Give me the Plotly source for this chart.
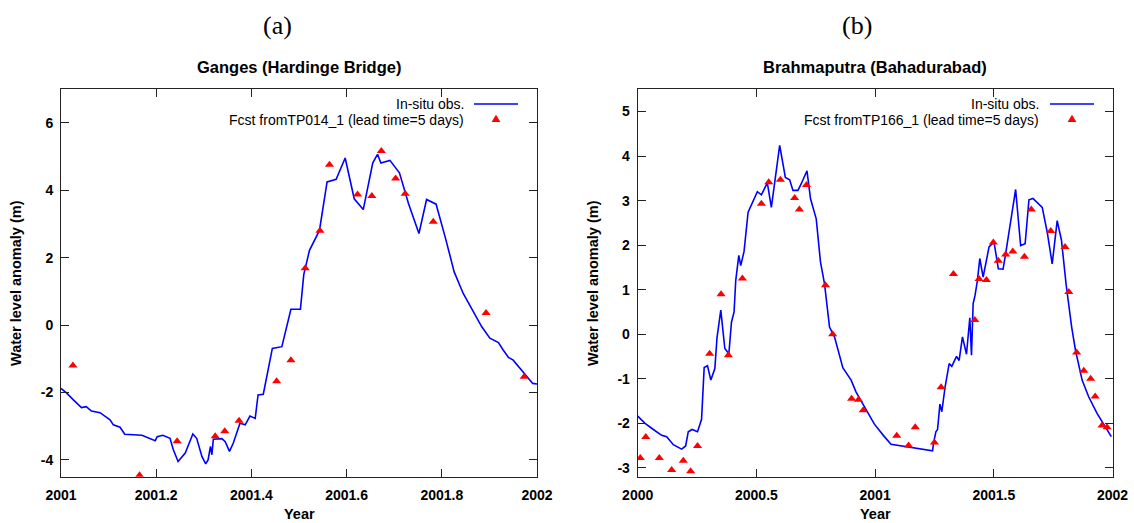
import plotly.graph_objects as go

W, H = 1134, 523
FONT = "Liberation Sans, Arial, Helvetica, sans-serif"
SERIF = "Liberation Serif, DejaVu Serif, serif"

# ---------------- Panel (a): Ganges (Hardinge Bridge) ----------------
ganges_obs_year = [
    2001.000, 2001.012, 2001.026, 2001.043, 2001.053, 2001.064, 2001.082, 2001.103,
    2001.110, 2001.124, 2001.134, 2001.148, 2001.170, 2001.198, 2001.202, 2001.214,
    2001.229, 2001.236, 2001.246, 2001.261, 2001.277, 2001.285, 2001.296, 2001.304,
    2001.309, 2001.314, 2001.317, 2001.320, 2001.338, 2001.345, 2001.354, 2001.362,
    2001.369, 2001.376, 2001.387, 2001.397, 2001.408, 2001.414, 2001.425, 2001.444,
    2001.464, 2001.483, 2001.503, 2001.510, 2001.522, 2001.543, 2001.559, 2001.578,
    2001.597, 2001.616, 2001.635, 2001.655, 2001.665, 2001.672, 2001.691, 2001.711,
    2001.730, 2001.752, 2001.768, 2001.788, 2001.807, 2001.826, 2001.845, 2001.866,
    2001.884, 2001.901, 2001.919, 2001.929, 2001.940, 2001.950, 2001.968, 2001.985,
    2001.991, 2002.000,
]
ganges_obs_level = [
    -1.88, -2.02, -2.22, -2.45, -2.42, -2.55, -2.60, -2.81,
    -2.96, -3.03, -3.24, -3.26, -3.27, -3.43, -3.31, -3.27,
    -3.36, -3.70, -4.05, -3.80, -3.23, -3.36, -3.90, -4.12,
    -4.00, -3.60, -3.85, -3.39, -3.37, -3.46, -3.75, -3.50,
    -3.19, -2.91, -2.96, -2.70, -2.77, -2.07, -2.05, -0.69,
    -0.64, 0.47, 0.47, 1.50, 2.22, 2.81, 4.25, 4.33,
    4.96, 3.75, 3.43, 4.82, 5.07, 4.81, 4.89, 4.52,
    3.61, 2.72, 3.73, 3.59, 2.62, 1.58, 0.94, 0.40,
    -0.05, -0.39, -0.52, -0.74, -0.96, -1.04, -1.35, -1.63,
    -1.73, -1.75,
]
ganges_fcst_year = [
    2001.025, 2001.165, 2001.244, 2001.324, 2001.344, 2001.374, 2001.453, 2001.483,
    2001.513, 2001.544, 2001.564, 2001.623, 2001.653, 2001.673, 2001.703, 2001.723,
    2001.782, 2001.893, 2001.973,
]
ganges_fcst_level = [
    -1.20, -4.46, -3.45, -3.30, -3.15, -2.84, -1.67, -1.04,
    1.69, 2.80, 4.76, 3.88, 3.83, 5.17, 4.35, 3.90,
    3.07, 0.36, -1.53,
]

# ---------------- Panel (b): Brahmaputra (Bahadurabad) ----------------
brahma_obs_year = [
    2000.000, 2000.031, 2000.066, 2000.101, 2000.122, 2000.150, 2000.185, 2000.202,
    2000.213, 2000.229, 2000.252, 2000.269, 2000.280, 2000.294, 2000.308, 2000.325,
    2000.334, 2000.350, 2000.367, 2000.384, 2000.395, 2000.406, 2000.413, 2000.426,
    2000.434, 2000.448, 2000.465, 2000.472, 2000.504, 2000.521, 2000.546, 2000.563,
    2000.598, 2000.622, 2000.640, 2000.654, 2000.675, 2000.689, 2000.713, 2000.728,
    2000.752, 2000.770, 2000.787, 2000.808, 2000.829, 2000.864, 2000.899, 2000.920,
    2000.955, 2000.997, 2001.039, 2001.067, 2001.242, 2001.246, 2001.256, 2001.263,
    2001.273, 2001.281, 2001.295, 2001.312, 2001.323, 2001.343, 2001.354, 2001.368,
    2001.385, 2001.399, 2001.406, 2001.413, 2001.421, 2001.431, 2001.441, 2001.455,
    2001.480, 2001.501, 2001.519, 2001.539, 2001.550, 2001.576, 2001.592, 2001.613,
    2001.632, 2001.648, 2001.665, 2001.704, 2001.725, 2001.746, 2001.767, 2001.785,
    2001.805, 2001.828, 2001.844, 2001.872, 2001.900, 2001.935, 2001.956, 2001.995,
]
brahma_obs_level = [
    -1.84, -2.00, -2.14, -2.27, -2.30, -2.48, -2.58, -2.51,
    -2.19, -2.14, -2.19, -1.91, -0.75, -0.71, -1.03, -0.77,
    -0.08, 0.54, -0.32, -0.44, 0.27, 0.50, 1.21, 1.77,
    1.54, 1.86, 2.74, 2.82, 3.20, 3.13, 3.40, 2.85,
    4.24, 3.52, 3.47, 3.23, 3.23, 3.38, 3.67, 3.04,
    2.59, 1.62, 1.13, 0.16, -0.06, -0.75, -1.03, -1.30,
    -1.63, -2.02, -2.30, -2.47, -2.62, -2.45, -2.19, -2.14,
    -1.57, -1.74, -1.18, -0.66, -0.72, -0.50, -0.59, -0.06,
    -0.45, 0.37, -0.47, 0.69, 0.87, 1.21, 1.70, 1.28,
    1.96, 2.07, 1.47, 1.46, 1.81, 2.70, 3.25, 1.99,
    2.03, 3.02, 3.05, 2.85, 2.29, 1.58, 2.55, 2.11,
    1.10, 0.16, -0.36, -1.03, -1.41, -1.78, -1.97, -2.30,
]
brahma_fcst_year = [
    2000.011, 2000.034, 2000.091, 2000.143, 2000.192, 2000.223, 2000.252, 2000.303,
    2000.351, 2000.382, 2000.441, 2000.521, 2000.552, 2000.601, 2000.661, 2000.681,
    2000.711, 2000.791, 2000.821, 2000.901, 2000.930, 2000.950, 2001.091, 2001.141,
    2001.169, 2001.250, 2001.278, 2001.330, 2001.420, 2001.438, 2001.469, 2001.498,
    2001.519, 2001.550, 2001.580, 2001.629, 2001.658, 2001.740, 2001.800, 2001.816,
    2001.849, 2001.879, 2001.908, 2001.927, 2001.956, 2001.977,
]
brahma_fcst_level = [
    -2.78, -2.31, -2.78, -3.05, -2.84, -3.08, -2.51, -0.44,
    0.90, -0.47, 1.25, 2.93, 3.41, 3.47, 3.06, 2.80,
    3.35, 1.10, 0.00, -1.45, -1.47, -1.71, -2.28, -2.50,
    -2.09, -2.43, -1.19, 1.35, 0.32, 1.24, 1.22, 2.06,
    1.65, 1.79, 1.86, 1.74, 2.80, 2.32, 1.96, 0.95,
    -0.41, -0.82, -1.00, -1.40, -2.05, -2.09,
]

# tick labels
ganges_xticks = [2001.0, 2001.2, 2001.4, 2001.6, 2001.8, 2002.0]
ganges_xlabels = ["2001", "2001.2", "2001.4", "2001.6", "2001.8", "2002"]
ganges_yticks = [-4, -2, 0, 2, 4, 6]
ganges_ylabels = ["-4", "-2", "0", "2", "4", "6"]
brahma_xticks = [2000.0, 2000.5, 2001.0, 2001.5, 2002.0]
brahma_xlabels = ["2000", "2000.5", "2001", "2001.5", "2002"]
brahma_yticks = [-3, -2, -1, 0, 1, 2, 3, 4, 5]
brahma_ylabels = ["-3", "-2", "-1", "0", "1", "2", "3", "4", "5"]

# ---------------- layout helpers (pixel -> paper) ----------------
def fx(px):
    return px / W


def fy(py):
    return 1 - py / H


A_L, A_R = 61.0, 537.0
B_L, B_R = 637.7, 1112.5
TOP, BOT = 89.3, 476.7

BLUE = "#0000ff"
RED = "#ff0000"
MSIZE = 8

fig = go.Figure()
fig.add_trace(go.Scatter(x=ganges_obs_year, y=ganges_obs_level, mode="lines",
                         line=dict(color=BLUE, width=1.6), xaxis="x", yaxis="y",
                         showlegend=False))
fig.add_trace(go.Scatter(x=ganges_fcst_year, y=ganges_fcst_level, mode="markers",
                         marker=dict(symbol="triangle-up", size=MSIZE, color=RED, line=dict(width=0)),
                         xaxis="x", yaxis="y", showlegend=False))
fig.add_trace(go.Scatter(x=brahma_obs_year, y=brahma_obs_level, mode="lines",
                         line=dict(color=BLUE, width=1.6), xaxis="x2", yaxis="y2",
                         showlegend=False))
fig.add_trace(go.Scatter(x=brahma_fcst_year, y=brahma_fcst_level, mode="markers",
                         marker=dict(symbol="triangle-up", size=MSIZE, color=RED, line=dict(width=0)),
                         xaxis="x2", yaxis="y2", showlegend=False))

tickfont = dict(family=FONT, size=14, color="black", weight="bold")
common = dict(showline=True, linecolor="#222222", linewidth=1, mirror="ticks",
              ticks="inside", ticklen=8, tickwidth=1, tickcolor="#222222",
              showgrid=False, zeroline=False, tickfont=tickfont, automargin=False)

fig.update_layout(
    template="none",
    width=W, height=H,
    margin=dict(l=0, r=0, t=0, b=0, pad=0),
    paper_bgcolor="white", plot_bgcolor="white",
    showlegend=False,
    xaxis=dict(domain=[fx(A_L), fx(A_R)], range=[2001, 2002], anchor="y",
               tickmode="array", tickvals=ganges_xticks, ticktext=ganges_xlabels,
               ticklabelstandoff=5, **common),
    yaxis=dict(domain=[fy(BOT), fy(TOP)], range=[-4.5, 7], anchor="x",
               tickmode="array", tickvals=ganges_yticks, ticktext=ganges_ylabels,
               ticklabelstandoff=4, **common),
    xaxis2=dict(domain=[fx(B_L), fx(B_R)], range=[2000, 2002], anchor="y2",
                tickmode="array", tickvals=brahma_xticks, ticktext=brahma_xlabels,
                ticklabelstandoff=5, **common),
    yaxis2=dict(domain=[fy(BOT), fy(TOP)], range=[-3.2, 5.5], anchor="x2",
                tickmode="array", tickvals=brahma_yticks, ticktext=brahma_ylabels,
                ticklabelstandoff=4, **common),
)

ann = []
shapes = []


def text(px, py, s, size=14, bold=False, family=FONT, xanchor="center", angle=0):
    ann.append(dict(x=fx(px), y=fy(py), xref="paper", yref="paper", text=s,
                    showarrow=False, xanchor=xanchor, yanchor="middle", textangle=angle,
                    font=dict(family=family, size=size, color="black",
                              weight="bold" if bold else "normal")))


def legend(text_right, line_x0, line_x1, tri_cx, series_label):
    y1, y2 = 104.0, 120.0
    text(text_right, y1, "In-situ obs.", size=14, xanchor="right")
    text(text_right, y2, series_label, size=14, xanchor="right")
    shapes.append(dict(type="line", xref="paper", yref="paper",
                       x0=fx(line_x0), x1=fx(line_x1), y0=fy(y1), y1=fy(y1),
                       line=dict(color=BLUE, width=1.6)))
    cy = 118.8
    path = "M {},{} L {},{} L {},{} Z".format(
        fx(tri_cx - 4.4), fy(cy + 3.1), fx(tri_cx + 4.4), fy(cy + 3.1),
        fx(tri_cx), fy(cy - 4.0))
    shapes.append(dict(type="path", xref="paper", yref="paper", path=path,
                       fillcolor=RED, line=dict(width=0)))


# panel labels and titles
text(277, 25, "(a)", size=26, family=SERIF)
text(857, 25, "(b)", size=26, family=SERIF)
text((A_L + A_R) / 2, 67, "Ganges (Hardinge Bridge)", size=16.5, bold=True)
text((B_L + B_R) / 2, 67, "Brahmaputra (Bahadurabad)", size=16.5, bold=True)
# axis titles
text((A_L + A_R) / 2, 514, "Year", size=14.5, bold=True)
text((B_L + B_R) / 2, 514, "Year", size=14.5, bold=True)
text(16, (TOP + BOT) / 2, "Water level anomaly (m)", size=14.5, bold=True, angle=-90)
text(593, (TOP + BOT) / 2, "Water level anomaly (m)", size=14.5, bold=True, angle=-90)
# legends
legend(466, 474, 518, 496, "Fcst fromTP014_1 (lead time=5 days)")
legend(1041, 1050, 1094, 1072, "Fcst fromTP166_1 (lead time=5 days)")

fig.update_layout(annotations=ann, shapes=shapes)
fig.write_html(
    "out.html",
    config={"displayModeBar": False},
    post_script="document.body.style.margin='0';document.body.style.padding='0';"
                "document.body.style.overflow='hidden';",
)
